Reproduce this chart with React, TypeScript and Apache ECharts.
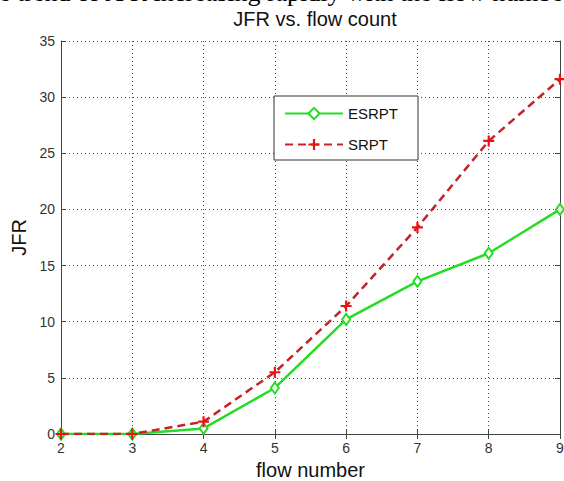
import React, { useEffect, useRef } from "react";
import * as echarts from "echarts";

const flowNumbers = [2, 3, 4, 5, 6, 7, 8, 9];
const esrpt = [0, 0, 0.5, 4.1, 10.2, 13.6, 16.1, 20.0];
const srpt = [0, 0, 1.1, 5.5, 11.4, 18.4, 26.1, 31.6];
const seriesNames = ["ESRPT", "SRPT"];
const titleText = "JFR vs. flow count";
const xLabel = "flow number";
const yLabel = "JFR";
const captionText = "e trend of JFR increasing rapidly with the flow numbe";

const PLUS = "path://M4,0 H6 V4 H10 V6 H6 V10 H4 V6 H0 V4 H4 Z";

export default function App() {
  const ref = useRef<HTMLDivElement>(null);
  useEffect(() => {
    if (!ref.current) return;
    const chart = echarts.init(ref.current, null, { renderer: "svg" });
    const font = "'Liberation Sans', Arial, sans-serif";
    const axisLine = { show: true, lineStyle: { color: "#444", width: 1 } };
    const tick = { show: true, inside: true, length: 5, lineStyle: { color: "#444" } };
    const split = { show: true, lineStyle: { color: "#444", width: 1, type: [1, 3] } };
    chart.setOption({
      animation: false,
      backgroundColor: "#fff",
      title: {
        text: titleText,
        left: 310,
        textAlign: "center",
        top: 4,
        textStyle: { fontFamily: font, fontSize: 20, fontWeight: "normal", color: "#111" },
      },
      graphic: [
        {
          type: "text",
          left: -1,
          top: -21,
          style: {
            text: captionText,
            font: "26px 'Liberation Serif', 'Times New Roman', serif",
            fill: "#000",
          },
        },
      ],
      legend: {
        orient: "vertical",
        left: 274,
        top: 96,
        padding: [10, 20, 8, 10],
        itemGap: 16,
        itemWidth: 58,
        itemHeight: 14,
        borderColor: "#333",
        borderWidth: 1,
        borderRadius: 0,
        backgroundColor: "#fff",
        textStyle: { fontFamily: font, fontSize: 15, color: "#111" },
        data: seriesNames,
      },
      grid: { left: 61, right: 4, top: 41, bottom: 47, outerBoundsMode: "none", containLabel: false },
      xAxis: [
        {
          type: "value",
          min: 2,
          max: 9,
          interval: 1,
          position: "bottom",
          name: xLabel,
          nameLocation: "middle",
          nameGap: 21,
          nameTextStyle: { fontFamily: font, fontSize: 20, color: "#111" },
          axisLine,
          axisTick: tick,
          splitLine: split,
          axisLabel: { fontFamily: font, fontSize: 14, color: "#333", margin: 7 },
        },
        {
          type: "value",
          min: 2,
          max: 9,
          interval: 1,
          position: "top",
          axisLine,
          axisTick: tick,
          splitLine: { show: false },
          axisLabel: { show: false },
        },
      ],
      yAxis: [
        {
          type: "value",
          min: 0,
          max: 35,
          interval: 5,
          position: "left",
          name: yLabel,
          nameLocation: "middle",
          nameGap: 29,
          nameTextStyle: { fontFamily: font, fontSize: 20, color: "#111" },
          axisLine,
          axisTick: tick,
          splitLine: split,
          axisLabel: { fontFamily: font, fontSize: 14, color: "#333", margin: 6 },
        },
        {
          type: "value",
          min: 0,
          max: 35,
          interval: 5,
          position: "right",
          axisLine,
          axisTick: tick,
          splitLine: { show: false },
          axisLabel: { show: false },
        },
      ],
      series: [
        {
          name: seriesNames[0],
          type: "line",
          data: flowNumbers.map((x, i) => [x, esrpt[i]]),
          symbol: "emptyDiamond",
          symbolSize: [8, 11],
          lineStyle: { color: "#22dd22", width: 2.5 },
          itemStyle: { color: "#22dd22", borderWidth: 2 },
          z: 3,
        },
        {
          name: seriesNames[1],
          type: "line",
          data: flowNumbers.map((x, i) => [x, srpt[i]]),
          symbol: PLUS,
          symbolSize: 11,
          lineStyle: { color: "#c4232b", width: 2.5, type: [8, 5] },
          itemStyle: { color: "#ee1111" },
          z: 4,
        },
      ],
    });
    return () => chart.dispose();
  }, []);
  return (
    <div
      ref={ref}
      style={{ position: "fixed", left: 0, top: 0, width: 564, height: 481 }}
    />
  );
}
